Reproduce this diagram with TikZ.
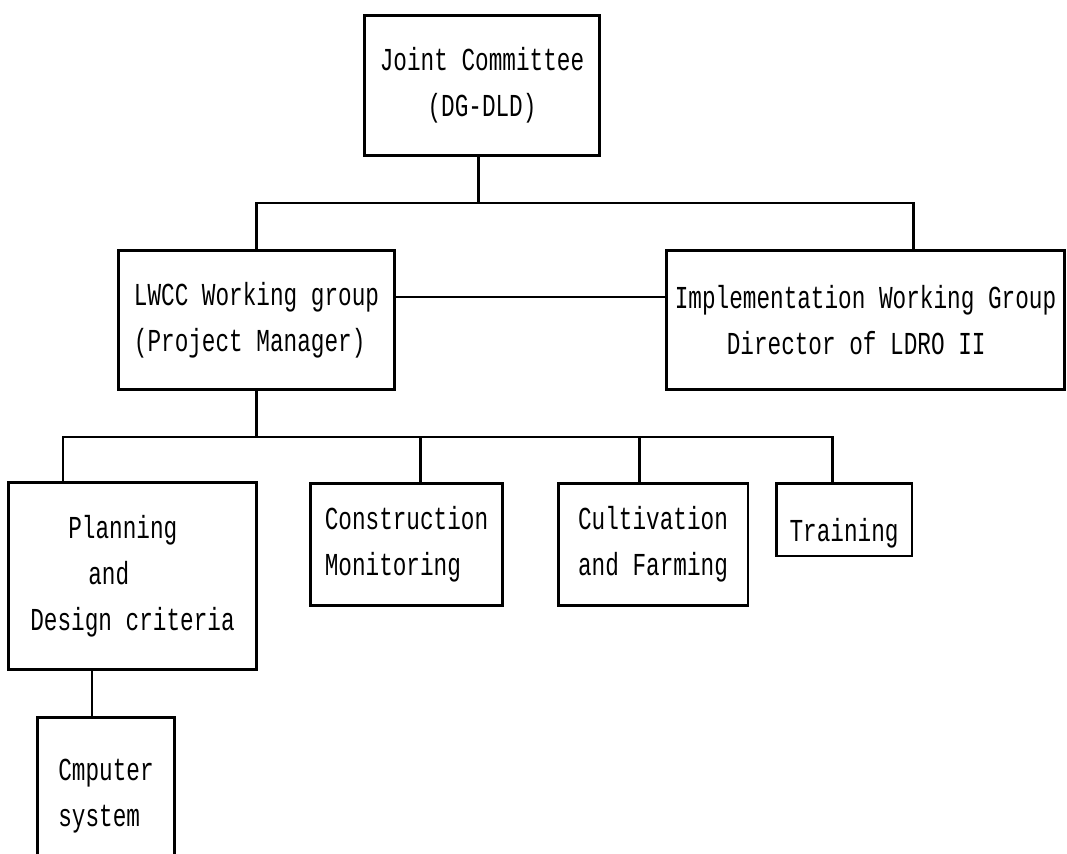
\documentclass[tikz,border=0pt]{standalone}
\usepackage{fontspec}
\newfontfamily\boxfont[FakeStretch=0.71]{Liberation Mono}
\tikzset{box/.style={draw,line width=1.7pt,inner sep=0pt,align=left,font={\boxfont\fontsize{18.2}{26.2}\selectfont}},lowbox/.style={box,execute at begin node={\rule{0pt}{1cm}}},link/.style={line width=1.7pt}}

\begin{document}
\begin{tikzpicture}[x=0.02cm,y=-0.02cm]
\path[use as bounding box,clip] (0,0) rectangle (1067,854);
% boxes
\node[box,align=center,minimum width=4.72cm,minimum height=2.82cm] (jc) at (482,85.5) {Joint Committee\\(DG-DLD)};
\node[box,minimum width=5.54cm,minimum height=2.8cm] (lwcc) at (256.5,320) {LWCC Working group\\(Project Manager)};
\node[box,minimum width=7.98cm,minimum height=2.8cm] (impl) at (865.5,320) {Implementation Working Group\\\hspace*{1.04cm}Director of LDRO II};
\node[lowbox,minimum width=4.98cm,minimum height=3.76cm] (plan) at (132.5,576) {\hspace*{0.76cm}Planning\\\hspace*{1.16cm}and\\Design criteria};
\node[lowbox,minimum width=3.86cm,minimum height=2.46cm] (cons) at (406.5,544.5) {Construction\\Monitoring};
\node[lowbox,minimum width=3.8cm,minimum height=2.46cm] (cult) at (653,544.5) {Cultivation\\and Farming};
\node[lowbox,minimum width=2.72cm,minimum height=1.46cm] (train) at (844,519.5) {Training};
\node[box,minimum width=2.76cm,minimum height=3.18cm] (comp) at (106,796.5) {Cmputer\\system};
% bus points
\coordinate (jcbus) at (478,203);
\coordinate (rbus) at (913,203);
\coordinate (mid) at (530,297);
\coordinate (sub) at (256.5,437);
\coordinate (dplan) at (63,437);
\coordinate (dcons) at (420,437);
\coordinate (dcult) at (639,437);
\coordinate (dtrain) at (832,437);
\coordinate (dcomp) at (92,700);
% connectors
\draw[link] (jc.south -| jcbus) -- (jcbus);
\draw[link] (lwcc.north) |- (rbus) -- (rbus |- impl.north);
\draw[link] (lwcc.east |- mid) -- (impl.west |- mid);
\draw[link] (lwcc.south) -- (sub);
\draw[link] (dplan |- plan.north) -- (dplan) -- (dtrain) -- (dtrain |- train.north);
\draw[link] (dcons) -- (dcons |- cons.north);
\draw[link] (dcult) -- (dcult |- cult.north);
\draw[link] (dcomp |- plan.south) -- (dcomp |- comp.north);
\end{tikzpicture}
\end{document}
